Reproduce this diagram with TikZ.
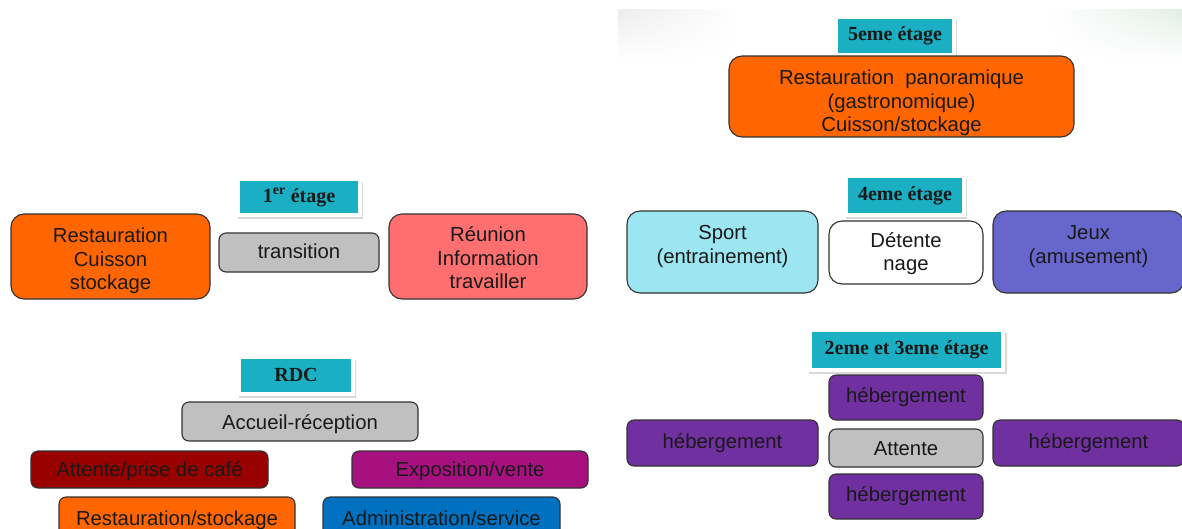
\documentclass[tikz,border=0pt]{standalone}
\usepackage{fontspec}
\setmainfont{Liberation Sans}
\newfontfamily\lblfont{Liberation Serif}
\usetikzlibrary{shadows,fadings}
\definecolor{teal1}{RGB}{26,175,194}
\definecolor{orng}{RGB}{255,102,0}
\definecolor{grey1}{RGB}{192,192,192}
\definecolor{pink1}{RGB}{255,111,111}
\definecolor{dred}{RGB}{153,0,0}
\definecolor{mag}{RGB}{166,17,127}
\definecolor{blu}{RGB}{0,112,192}
\definecolor{cyn}{RGB}{155,230,240}
\definecolor{violet1}{RGB}{102,102,204}
\definecolor{purp}{RGB}{112,48,160}
\definecolor{edge}{RGB}{50,50,50}
\definecolor{ink}{RGB}{25,25,25}
\definecolor{bandL}{RGB}{236,237,236}
\definecolor{bandR}{RGB}{226,238,230}
% centred lines of text, shifted up or down without changing the node size
\newcommand\celltext[2][0pt]{\raisebox{#1}[\height][\depth]{\begin{tabular}{@{}c@{}}#2\end{tabular}}}
\tikzfading[name=bandfade, top color=transparent!0, middle color=transparent!10,
  bottom color=transparent!100]
\tikzset{
  box/.style={draw=edge, line width=1.1pt, rounded corners=7pt, inner sep=0pt,
    align=center, text=ink, font=\fontsize{20.3}{23.5}\selectfont},
  bigbox/.style={box, rounded corners=13pt},
  floor/.style={fill=teal1, draw=white, line width=4pt, inner sep=0pt,
    text=ink, font=\lblfont\bfseries\fontsize{20}{22}\selectfont,
    drop shadow={opacity=0.3, shadow xshift=1.5pt, shadow yshift=-3.5pt, shadow scale=1.03}},
}
\begin{document}
\begin{tikzpicture}[x=1pt,y=-1pt]
\useasboundingbox (0,0) rectangle (1182,528);
\clip (0,0) rectangle (1182,528);
% soft band behind the top floor
\shade[left color=bandL, right color=white, path fading=bandfade] (618,10) rectangle (740,60);
\shade[left color=white, right color=bandR, path fading=bandfade] (1050,10) rectangle (1182,60);

% ---- 1er étage
\node[floor, minimum width=122pt, minimum height=36pt] (f1) at (299,197) {\celltext[-1pt]{1\textsuperscript{er} étage}};
\node[bigbox, fill=orng, minimum width=199pt, minimum height=85pt] (rc) at (110.5,256.5) {\celltext[-5pt]{Restauration\\Cuisson\\stockage}};
\node[box, fill=grey1, minimum width=160pt, minimum height=39pt] (tr) at (299,252.5) {\celltext[-1pt]{transition}};
\node[bigbox, fill=pink1, minimum width=198pt, minimum height=85pt] (ri) at (488,256.5) {\celltext[-4pt]{Réunion\\Information\\travailler}};

% ---- RDC
\node[floor, minimum width=114pt, minimum height=37pt] (rdc) at (296,375) {RDC};
\node[box, fill=grey1, minimum width=236pt, minimum height=39pt] (ac) at (300,421.5) {\celltext[-3pt]{Accueil-réception}};
\node[box, fill=dred, minimum width=237pt, minimum height=37pt] (ap) at (149.5,469.5) {\celltext[-2pt]{Attente/prise de café}};
\node[box, fill=mag, minimum width=236pt, minimum height=37pt] (ev) at (470,469.5) {\celltext[-2pt]{Exposition/vente}};
\node[box, fill=orng, minimum width=236pt, minimum height=42pt] (rs) at (177,518) {\celltext[-3pt]{Restauration/stockage}};
\node[box, fill=blu, minimum width=237pt, minimum height=42pt] (as) at (441.5,518) {\celltext[-3pt]{Administration/service}};

% ---- 5eme étage
\node[floor, minimum width=118pt, minimum height=38pt] (f5) at (895,36) {5eme étage};
\node[bigbox, fill=orng, minimum width=345pt, minimum height=81pt] (rp) at (901.5,96.5) {\celltext[-7pt]{Restauration\ \ panoramique\\(gastronomique)\\Cuisson/stockage}};

% ---- 4eme étage
\node[floor, minimum width=118pt, minimum height=39pt] (f4) at (905,195.5) {4eme étage};
\node[bigbox, fill=cyn, minimum width=191pt, minimum height=82pt] (sp) at (722.5,252) {\celltext[5pt]{Sport\\(entrainement)}};
\node[bigbox, fill=white, minimum width=154pt, minimum height=63pt] (dn) at (906,252.5) {\celltext[-2pt]{Détente\\nage}};
\node[bigbox, fill=violet1, minimum width=191pt, minimum height=82pt] (jx) at (1088.5,252) {\celltext[5pt]{Jeux\\(amusement)}};

% ---- 2eme et 3eme étage
\node[floor, minimum width=193pt, minimum height=40pt] (f23) at (906.5,350) {2eme et 3eme étage};
\node[box, fill=purp, minimum width=154pt, minimum height=45pt] (ht) at (906,397.5) {hébergement};
\node[box, fill=purp, minimum width=191pt, minimum height=46pt] (hl) at (722.5,443) {hébergement};
\node[box, fill=grey1, minimum width=154pt, minimum height=38pt] (at) at (906,448) {\celltext[-3pt]{Attente}};
\node[box, fill=purp, minimum width=191pt, minimum height=46pt] (hr) at (1088.5,443) {hébergement};
\node[box, fill=purp, minimum width=154pt, minimum height=45pt] (hb) at (906,496.5) {hébergement};
\end{tikzpicture}
\end{document}
